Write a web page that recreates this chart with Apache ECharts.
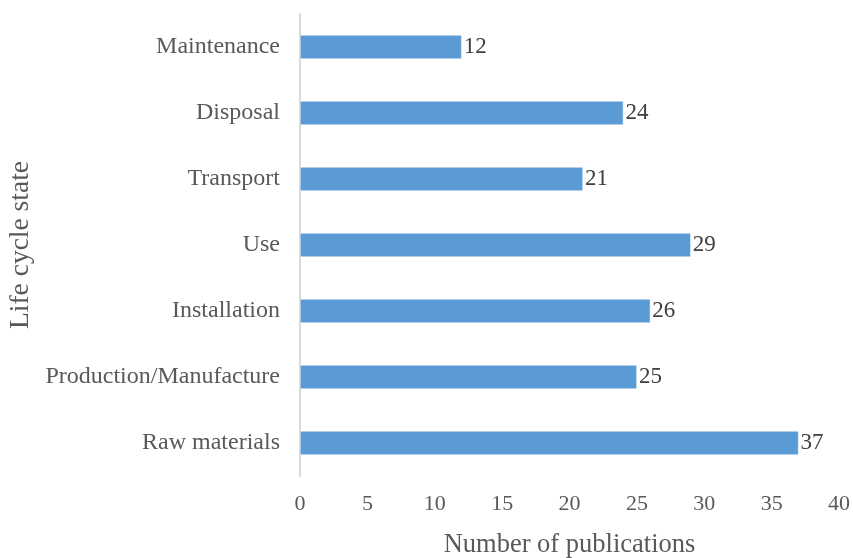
<!DOCTYPE html>
<html>
<head>
<meta charset="utf-8">
<script src="https://cdn.jsdelivr.net/npm/echarts@6/dist/echarts.min.js"></script>
<style>
  html, body { margin: 0; padding: 0; background: #fff; }
  #chart { width: 853px; height: 558px; }
</style>
</head>
<body>
<div id="chart"></div>
<script>
// Life cycle stages, listed bottom to top
const stages = ['Raw materials', 'Production/Manufacture', 'Installation', 'Use', 'Transport', 'Disposal', 'Maintenance'];
// Publications per stage
const publications = [37, 25, 26, 29, 21, 24, 12];
// Value axis ticks
const xTicks = { min: 0, max: 40, interval: 5 };

const font = '"Liberation Serif", "Times New Roman", serif';

const chart = echarts.init(document.getElementById('chart'));
chart.setOption({
  animation: false,
  grid: { left: 300, right: 14, top: 14, bottom: 82, containLabel: false, outerBoundsMode: 'none' },
  xAxis: {
    type: 'value',
    min: xTicks.min,
    max: xTicks.max,
    interval: xTicks.interval,
    name: 'Number of publications',
    nameLocation: 'middle',
    nameGap: 56,
    nameTextStyle: { fontFamily: font, fontSize: 26.5, color: '#595959' },
    axisLine: { show: false },
    axisTick: { show: false },
    splitLine: { show: false },
    axisLabel: { fontFamily: font, fontSize: 22, color: '#595959', margin: 17 }
  },
  yAxis: {
    type: 'category',
    data: stages,
    name: 'Life cycle state',
    nameLocation: 'middle',
    nameGap: 262,
    nameRotate: 90,
    nameTextStyle: { fontFamily: font, fontSize: 27.5, color: '#595959' },
    axisLine: { show: true, lineStyle: { color: '#d9d9d9', width: 2 } },
    axisTick: { show: false },
    axisLabel: { fontFamily: font, fontSize: 24, color: '#595959', margin: 20 }
  },
  series: [{
    type: 'bar',
    data: publications,
    barWidth: 24,
    itemStyle: { color: '#5b9bd5', borderColor: '#ffffff', borderWidth: 0.5 },
    label: {
      show: true,
      position: 'right',
      distance: 2,
      fontFamily: font,
      fontSize: 23,
      color: '#404040'
    }
  }]
});
</script>
</body>
</html>
